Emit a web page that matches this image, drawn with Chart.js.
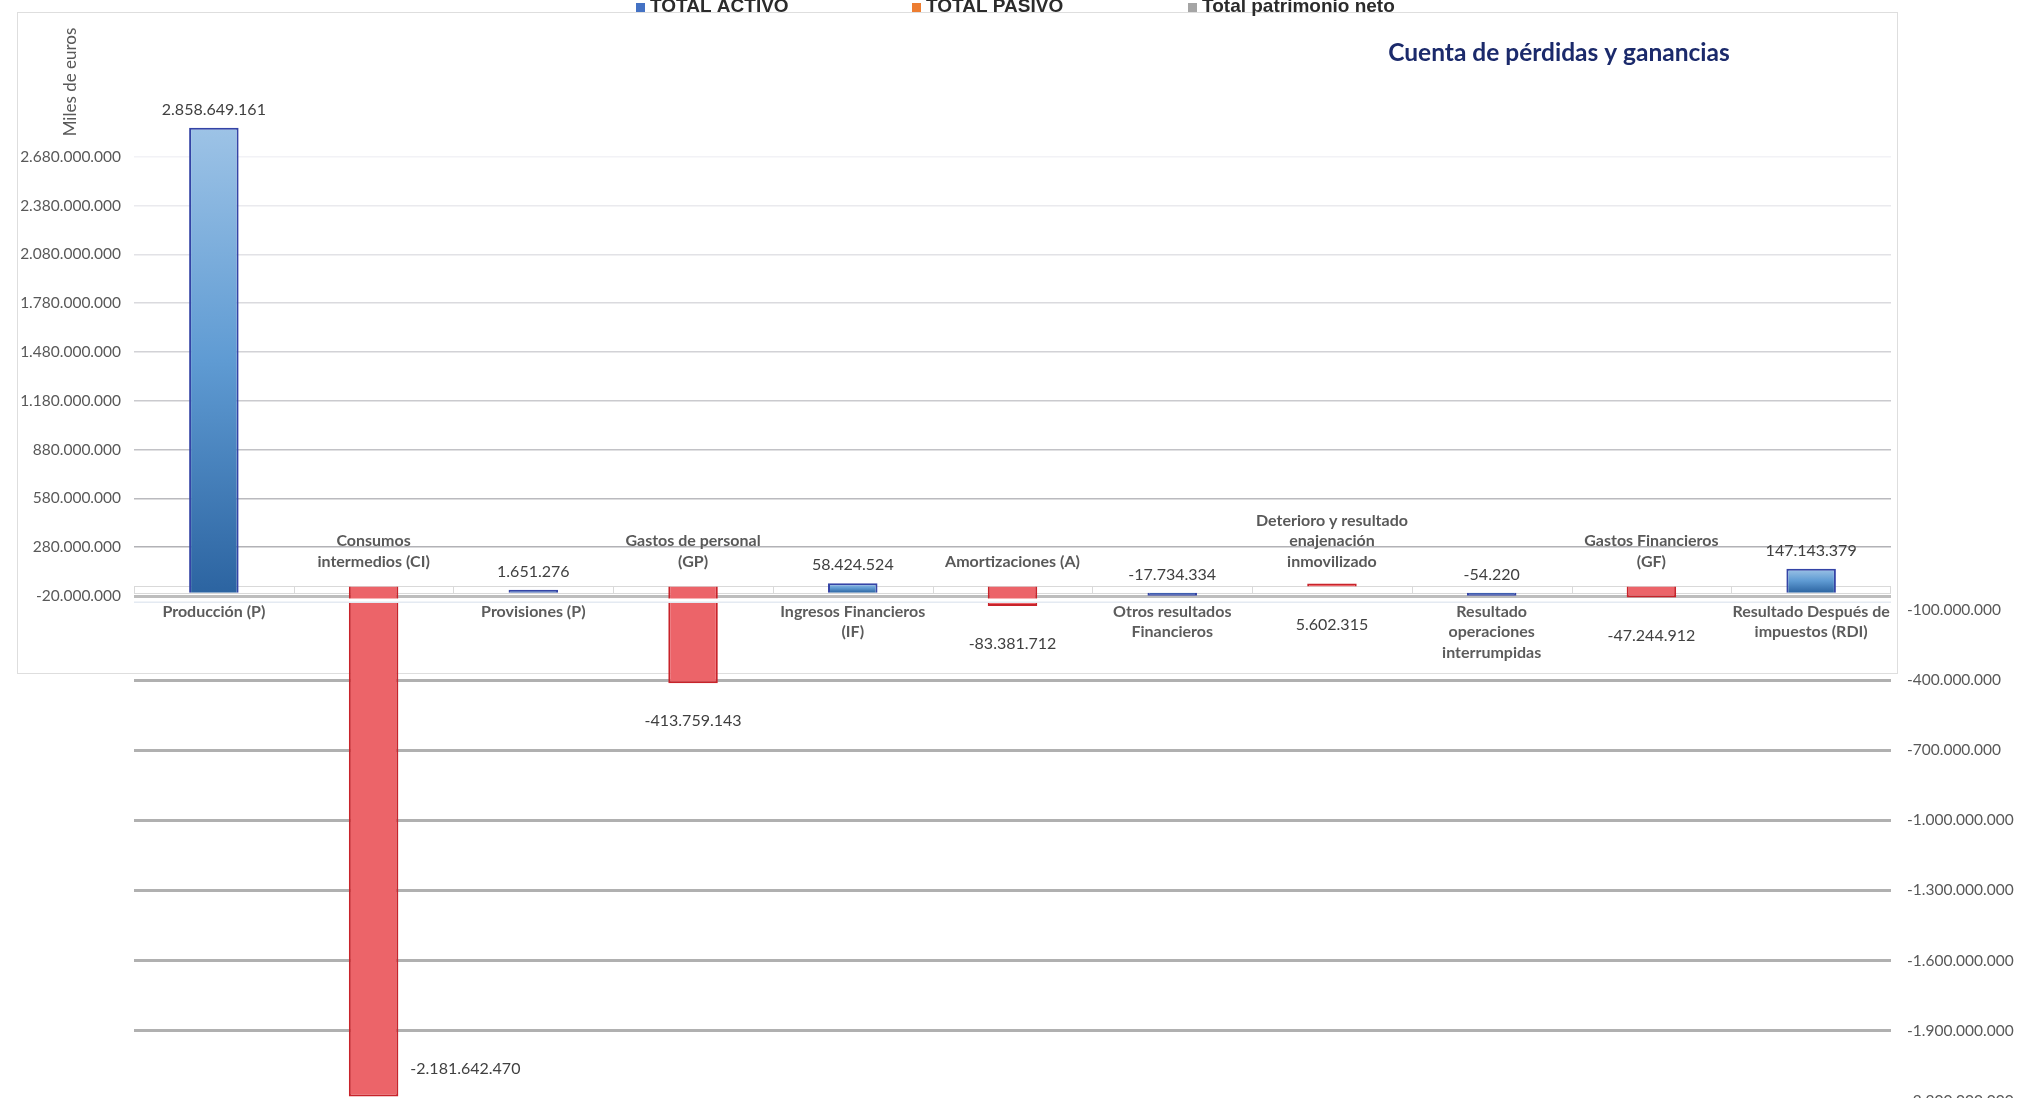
<!DOCTYPE html>
<html lang="es">
<head>
<meta charset="utf-8">
<title>Cuenta de pérdidas y ganancias</title>
<script src="https://cdn.jsdelivr.net/npm/chart.js@4.4.1/dist/chart.umd.min.js"></script>
<style>
  html, body { margin: 0; padding: 0; background: #fff; }
  #wrap { position: relative; width: 2034px; height: 1098px; overflow: hidden; }
</style>
</head>
<body>
<div id="wrap"><canvas id="pyg" width="2034" height="1098"></canvas></div>
<script>
// Partidas de la cuenta (etiquetas en varias líneas)
const categorias = [
    ['Producción (P)'],
    ['Consumos', 'intermedios (CI)'],
    ['Provisiones (P)'],
    ['Gastos de personal', '(GP)'],
    ['Ingresos Financieros', '(IF)'],
    ['Amortizaciones (A)'],
    ['Otros resultados', 'Financieros'],
    ['Deterioro y resultado', 'enajenación', 'inmovilizado'],
    ['Resultado', 'operaciones', 'interrumpidas'],
    ['Gastos Financieros', '(GF)'],
    ['Resultado Después de', 'impuestos (RDI)']
];

// Serie azul (eje izquierdo) y serie roja (eje derecho)
const serieAzul = [2858649161, null, 1651276, null, 58424524, null, -17734334, null, -54220, null, 147143379];
const serieRoja = [null, -2181642470, null, -413759143, null, -83381712, null, 5602315, null, -47244912, null];

// Marcas de los ejes
const ticksIzquierda = [-20e6, 280e6, 580e6, 880e6, 1180e6, 1480e6, 1780e6, 2080e6, 2380e6, 2680e6];
const ticksDerecha = [-100e6, -400e6, -700e6, -1000e6, -1300e6, -1600e6, -1900e6, -2200e6];

const leyenda = ['TOTAL ACTIVO', 'TOTAL PASIVO', 'Total patrimonio neto'];
const leyendaColores = ['#4472c4', '#ed7d31', '#a5a5a5'];

const FUENTE = 'Lato, "Liberation Sans", sans-serif';

/**
 * Formato con punto como separador de miles
 */
function fmt(v) {
    const s = Math.abs(Math.round(v)).toString().replace(/\B(?=(\d{3})+(?!\d))/g, '.');
    return (v < 0 ? '-' : '') + s;
}

function degradadoAzul(context) {
    const chart = context.chart;
    const v = context.raw;
    if (!chart.chartArea || v === null) return '#5b9bd5';
    const ys = chart.scales.y;
    const top = ys.getPixelForValue(Math.max(v, 0));
    const bottom = ys.getPixelForValue(Math.min(v, 0));
    if (bottom - top < 4) return '#3f5fb0';
    const g = chart.ctx.createLinearGradient(0, top, 0, bottom);
    g.addColorStop(0, '#9dc3e6');
    g.addColorStop(0.5, '#5f9bd3');
    g.addColorStop(1, '#2c64a1');
    return g;
}

// Marco, fila del eje, etiquetas de valores, títulos y leyenda
const decoracion = {
    id: 'decoracion',
    beforeDraw(chart) {
        const { ctx } = chart;
        ctx.save();
        ctx.fillStyle = '#ffffff';
        ctx.fillRect(0, 0, chart.width, chart.height);
        ctx.strokeStyle = '#dedede';
        ctx.lineWidth = 1;
        ctx.strokeRect(17.5, 12.5, 1880, 661);
        ctx.restore();
    },
    beforeDatasetsDraw(chart) {
        const { ctx, chartArea: a } = chart;
        const x = chart.scales.x;
        const top = Math.round(chart.scales.y2.getPixelForValue(0)) + 0.5;
        const bot = Math.round(chart.scales.y.getPixelForValue(0)) + 0.5;
        ctx.save();
        ctx.strokeStyle = '#d9d9d9';
        ctx.lineWidth = 1;
        ctx.strokeRect(a.left + 0.5, top, a.width - 1, bot - top);
        ctx.beginPath();
        for (let i = 1; i < categorias.length; i++) {
            const px = Math.round((x.getPixelForValue(i - 1) + x.getPixelForValue(i)) / 2) + 0.5;
            ctx.moveTo(px, top);
            ctx.lineTo(px, bot);
        }
        ctx.stroke();
        ctx.restore();
    },
    afterDatasetsDraw(chart) {
        const { ctx } = chart;
        ctx.save();
        ctx.textBaseline = 'middle';

        // Valores
        ctx.font = '16px ' + FUENTE;
        ctx.fillStyle = '#404040';
        chart.data.datasets.forEach((ds, di) => {
            const meta = chart.getDatasetMeta(di);
            const cero = chart.scales[ds.yAxisID].getPixelForValue(0);
            meta.data.forEach((bar, i) => {
                const v = ds.data[i];
                if (v === null) return;
                const top = Math.min(bar.y, bar.base);
                const bottom = Math.max(bar.y, bar.base);
                let x = bar.x, y, align = 'center';
                if (di === 0) {
                    y = Math.min(top, cero) - 18;
                } else {
                    y = Math.max(bottom, cero) + 38;
                    if (y > chart.height - 12) {
                        x = bar.x + bar.width / 2 + 12;
                        y = bottom - 28;
                        align = 'left';
                    }
                }
                ctx.textAlign = align;
                ctx.fillText(fmt(v), x, y);
            });
        });

        // Etiquetas de las partidas rojas, encima del eje
        ctx.font = 'bold 16px ' + FUENTE;
        ctx.fillStyle = '#595959';
        ctx.textAlign = 'center';
        const base = chart.scales.y2.getPixelForValue(0) - 24.5;
        categorias.forEach((lineas, i) => {
            if (serieRoja[i] === null) return;
            const px = chart.scales.x.getPixelForValue(i);
            lineas.forEach((t, k) => {
                ctx.fillText(t, px, base - (lineas.length - 1 - k) * 20.7);
            });
        });
        ctx.restore();
    },
    afterDraw(chart) {
        const { ctx, chartArea: a } = chart;
        ctx.save();

        // linea clara que pisa las etiquetas azules
        const ejeY = chart.scales.y.getPixelForValue(-20e6);
        ctx.fillStyle = '#ffffff';
        ctx.fillRect(a.left, ejeY + 2.5, a.width, 3.5);
        ctx.fillStyle = '#e4eaf2';
        ctx.fillRect(a.left, ejeY + 5.5, a.width, 1.5);

        // Título
        ctx.fillStyle = '#1b2a6b';
        ctx.font = 'bold 24.5px ' + FUENTE;
        ctx.textAlign = 'center';
        ctx.textBaseline = 'middle';
        ctx.fillText('Cuenta de pérdidas y ganancias', 1559, 53);

        // Título del eje
        ctx.save();
        ctx.translate(71, 82);
        ctx.rotate(-Math.PI / 2);
        ctx.fillStyle = '#595959';
        ctx.font = '17px ' + FUENTE;
        ctx.fillText('Miles de euros', 0, 0);
        ctx.restore();

        // Leyenda (recortada arriba)
        ctx.font = 'bold 19px "Liberation Sans", Arial, sans-serif';
        ctx.textAlign = 'left';
        ctx.textBaseline = 'alphabetic';
        leyenda.forEach((t, i) => {
            const x = 636 + i * 276;
            ctx.fillStyle = leyendaColores[i];
            ctx.fillRect(x, 3, 9, 9);
            ctx.fillStyle = '#2b2b2b';
            ctx.fillText(t, x + 14, 12);
        });
        ctx.restore();
    }
};

document.addEventListener('DOMContentLoaded', () => {
    const canvas = document.getElementById('pyg');
    const nIzq = ticksIzquierda.length;

    const chart = new Chart(canvas.getContext('2d'), {
        type: 'bar',
        data: {
            labels: categorias,
            datasets: [
                {
                    label: 'Ingresos',
                    data: serieAzul,
                    yAxisID: 'y',
                    backgroundColor: degradadoAzul,
                    borderColor: '#3444a6',
                    borderWidth: 2,
                    minBarLength: 3,
                    clip: false
                },
                {
                    label: 'Gastos',
                    data: serieRoja,
                    yAxisID: 'y2',
                    backgroundColor: '#ec6469',
                    borderColor: '#c8232a',
                    borderWidth: 2,
                    minBarLength: 3,
                    clip: false
                }
            ]
        },
        options: {
            responsive: false,
            animation: false,
            layout: { padding: { top: 20, bottom: 20, left: 0, right: 0 } },
            datasets: {
                bar: { grouped: false, categoryPercentage: 1, barPercentage: 0.31 }
            },
            plugins: {
                legend: { display: false },
                tooltip: { enabled: false }
            },
            scales: {
                x: {
                    type: 'category',
                    position: { y: -20e6 },
                    offset: true,
                    grid: { display: false, drawTicks: false },
                    border: { display: false },
                    ticks: {
                        autoSkip: false,
                        maxRotation: 0,
                        minRotation: 0,
                        padding: 5,
                        color: '#5c5c5c',
                        font: { family: FUENTE, size: 16, weight: 'bold', lineHeight: 1.3 },
                        callback: (value, index) => serieAzul[index] === null ? '' : categorias[index]
                    }
                },
                y: {
                    position: 'left',
                    bounds: 'data',
                    min: -2982e6,
                    max: 3520e6,
                    afterBuildTicks: scale => { scale.ticks = ticksIzquierda.map(value => ({ value })); },
                    afterFit: scale => { scale.width = 134; },
                    border: { display: false },
                    grid: {
                        drawTicks: false,
                        lineWidth: c => c.index === 0 ? 3 : 1.5,
                        color: c => {
                            if (c.index === 0) return '#bdbdbd';
                            const g = Math.round(170 + (c.index / (nIzq - 1)) * 72);
                            return `rgb(${g},${g},${Math.min(255, g + 4)})`;
                        }
                    },
                    ticks: {
                        padding: 13,
                        color: '#595959',
                        font: { family: FUENTE, size: 15.5 },
                        callback: v => fmt(v)
                    }
                },
                y2: {
                    position: 'right',
                    bounds: 'data',
                    min: -2102e6,
                    max: 2423e6,
                    afterBuildTicks: scale => { scale.ticks = ticksDerecha.map(value => ({ value })); },
                    afterFit: scale => { scale.width = 143; },
                    border: { display: false },
                    grid: {
                        drawTicks: false,
                        lineWidth: 3,
                        color: c => c.index === 0 ? 'rgba(0,0,0,0)' : '#b0b0b0'
                    },
                    ticks: {
                        padding: 16,
                        color: '#595959',
                        font: { family: FUENTE, size: 15.5 },
                        callback: v => fmt(v)
                    }
                }
            }
        },
        plugins: [decoracion]
    });

    // Ajusta los rangos para que cada eje tenga la misma escala que el original,
    // usando el área real del gráfico: dos marcas de cada eje y su altura.
    const area = chart.chartArea;
    const rango = (v1, p1, v2, p2) => {
        const k = (p2 - p1) / (v2 - v1);
        return { max: v1 + (area.top - p1) / k, min: v1 + (area.bottom - p1) / k };
    };
    Object.assign(chart.options.scales.y, rango(-20e6, 596, 2680e6, 156.7));
    Object.assign(chart.options.scales.y2, rango(-400e6, 680, -1900e6, 1030.7));
    chart.update();
});
</script>
</body>
</html>
